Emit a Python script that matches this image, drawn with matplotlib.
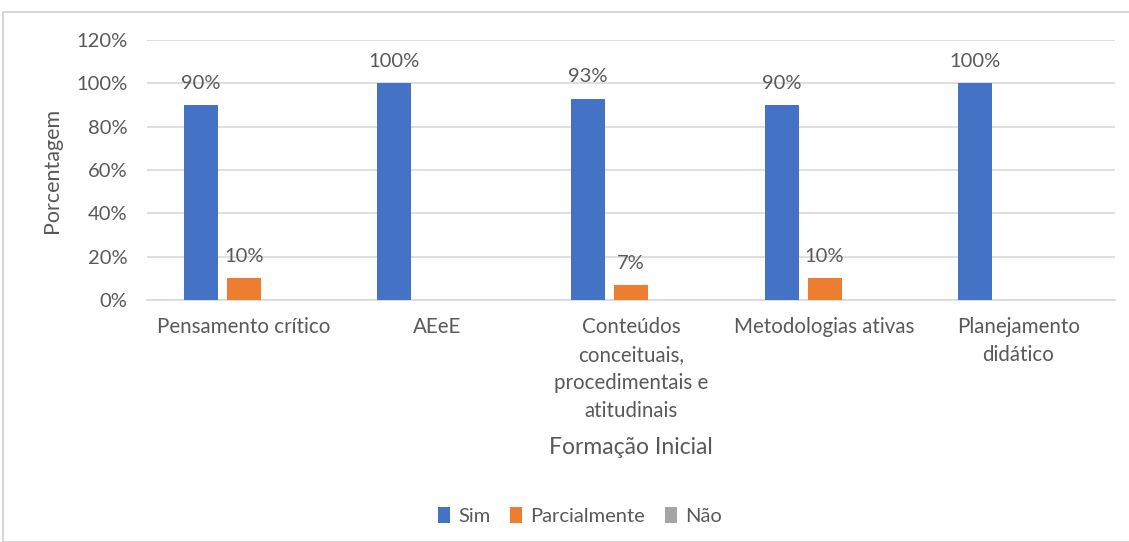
import matplotlib
matplotlib.use("Agg")
import matplotlib.pyplot as plt
from matplotlib.patches import Rectangle
import numpy as np

categories = ["Pensamento crítico", "AEeE", "Conteúdos\nconceituais,\nprocedimentais e\natitudinais",
              "Metodologias ativas", "Planejamento\ndidático"]
series_names = ["Sim", "Parcialmente", "Não"]
sim = [90, 100, 93, 90, 100]
parcialmente = [10, 0, 7, 10, 0]
nao = [0, 0, 0, 0, 0]
yticks = [0, 20, 40, 60, 80, 100, 120]
colors = ["#4472C4", "#ED7D31", "#A5A5A5"]
txt = "#595959"

plt.rcParams['font.family'] = ['Lato', 'DejaVu Sans']

W, H = 1129, 542
fig = plt.figure(figsize=(W/100, H/100), dpi=100)
ax = fig.add_axes([147/W, 1-300/H, (1115-147)/W, 260/H])

x = np.arange(len(categories))
bw = 0.175
off = 0.222
for i, (name, vals) in enumerate(zip(series_names, [sim, parcialmente, nao])):
    pos = x + (i-1)*off
    ax.bar(pos, vals, bw, color=colors[i], label=name, zorder=3)
    for p, v in zip(pos, vals):
        if v > 0:
            ax.annotate(f"{v}%", (p, v), xytext=(0, 9.5), textcoords="offset points",
                        ha="center", va="bottom", fontsize=14.5, color=txt)

ax.set_xlim(-0.5, len(categories)-0.5)
ax.set_ylim(0, 120)
ax.set_yticks(yticks)
ax.set_yticklabels([f"{t}%" for t in yticks])
ax.yaxis.grid(True, color="#d9d9d9", linewidth=1.2, zorder=0)
ax.set_axisbelow(True)
for s in ["top", "right", "left"]:
    ax.spines[s].set_visible(False)
ax.spines["bottom"].set_color("#d9d9d9")
ax.spines["bottom"].set_linewidth(1.2)
ax.tick_params(axis="y", length=0, labelsize=14.5, colors=txt, pad=14)
ax.tick_params(axis="x", length=0, labelsize=14.8, colors=txt, pad=12)
ax.set_xticks(x)
ax.set_xticklabels(categories, va="top", linespacing=1.5)
ax.set_ylabel("Porcentagem", fontsize=15.5, color=txt, labelpad=10)
ax.set_xlabel("Formação Inicial", fontsize=16.5, color=txt, labelpad=12)

leg = fig.legend(loc="center", bbox_to_anchor=(580/W, 1-516/H), ncol=3, frameon=False,
                 fontsize=14.5, handlelength=0.6, handleheight=0.8, handletextpad=0.4,
                 columnspacing=1.0)
for t in leg.get_texts():
    t.set_color(txt)

fig.patches.append(Rectangle((3/W, 0), 1.2, 1-12/H, transform=fig.transFigure,
                             fill=False, edgecolor="#d0d0d0", linewidth=1.2))

fig.savefig("out.png", dpi=100)
